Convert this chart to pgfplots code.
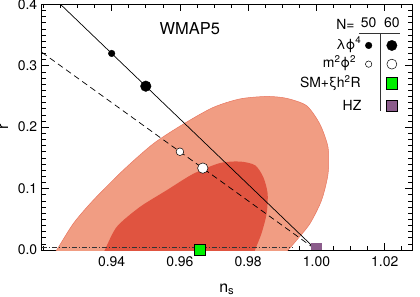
\documentclass[border=0pt]{standalone}
\usepackage{fontspec}
\setmainfont{TeX Gyre Heros}
\usepackage{pgfplots}
\pgfplotsset{compat=1.18}
\definecolor{outerc}{RGB}{241,157,131}
\definecolor{outeredge}{RGB}{232,118,96}
\definecolor{innerc}{RGB}{224,84,64}
\definecolor{smgreen}{RGB}{0,240,0}
\definecolor{hzpurple}{RGB}{139,92,139}
\begin{document}
\begin{tikzpicture}
\begin{axis}[
  scale only axis, width=370.3bp, height=245.7bp,
  xmin=0.9195, xmax=1.028, ymin=0, ymax=0.4,
  xtick={0.94,0.96,0.98,1.00,1.02},
  ytick={0,0.1,0.2,0.3,0.4},
  minor xtick={0.92,0.925,0.93,0.935,0.945,0.95,0.955,0.965,0.97,0.975,0.985,0.99,0.995,1.005,1.01,1.015,1.025},
  minor ytick={0.01,0.02,0.03,0.04,0.05,0.06,0.07,0.08,0.09,0.11,0.12,0.13,0.14,0.15,0.16,0.17,0.18,0.19,0.21,0.22,0.23,0.24,0.25,0.26,0.27,0.28,0.29,0.31,0.32,0.33,0.34,0.35,0.36,0.37,0.38,0.39},
  tick align=inside, xtick pos=both, ytick pos=both,
  major tick length=7bp, minor tick length=4bp,
  every tick/.style={black, line width=0.6bp},
  axis line style={line width=0.8bp},
  /pgf/number format/assume math mode=true,
  tick label style={font=\fontsize{14}{16}\selectfont},
  xticklabel style={/pgf/number format/.cd, fixed, fixed zerofill, precision=2},
  yticklabel style={/pgf/number format/.cd, fixed, fixed zerofill, precision=1},
  xticklabel shift=3bp,
  yticklabel shift=1bp,
  xlabel={n\textsubscript{s}},
  ylabel={r},
  xlabel style={at={(axis description cs:0.5,-0.171)}, anchor=base, font=\fontsize{16}{18}\selectfont},
  ylabel style={at={(axis description cs:-0.091,0.5)}, anchor=base, rotate=0, font=\fontsize{16}{18}\selectfont},
  clip=true,
]
% confidence regions
\addplot[fill=outerc, draw=outeredge, line width=0.5bp, smooth, tension=0.45] coordinates {
(0.9230,-0.006) (0.9239,0) (0.9288,0.0433) (0.9346,0.081) (0.9434,0.130) (0.9522,0.173)
(0.9610,0.205) (0.9697,0.232) (0.9776,0.246) (0.9854,0.250) (0.9912,0.247) (0.9971,0.235)
(1.0010,0.205) (1.0034,0.167) (1.0034,0.124) (1.0015,0.081) (0.9981,0.043) (0.9942,0.016)
(0.9917,0) (0.9905,-0.006)} -- cycle;
\addplot[fill=innerc, draw=none, smooth, tension=0.45] coordinates {
(0.9375,-0.006) (0.9380,0) (0.9415,0.0378) (0.9483,0.0702) (0.9561,0.0972) (0.9639,0.124)
(0.9717,0.1415) (0.9776,0.144) (0.9820,0.138) (0.9844,0.119) (0.9857,0.092) (0.9854,0.059)
(0.9839,0.027) (0.9820,0) (0.9818,-0.006)} -- cycle;
% model lines
\addplot[black, line width=0.7bp] coordinates {(0.9195,0.4293) (1.0,0.0)};
\addplot[black, line width=0.7bp, dash pattern=on 6bp off 4bp] coordinates {(0.9195,0.322) (1.0,0.0)};
\addplot[black!80, line width=0.6bp, dash pattern=on 5bp off 2bp on 1bp off 2bp] coordinates {(0.9195,0.005) (0.993,0.005)};
% HZ point (clipped square)
\addplot[fill=hzpurple, draw=none] coordinates {(0.99828,0) (1.00171,0) (1.00171,0.0109) (0.99828,0.0109)} -- cycle;
% model points
\addplot[only marks, mark=*, mark size=3.3bp, mark options={fill=black, draw=black}] coordinates {(0.94,0.32)};
\addplot[only marks, mark=*, mark size=5.3bp, mark options={fill=black, draw=black}] coordinates {(0.95,0.2667)};
\addplot[only marks, mark=*, mark size=3.8bp, mark options={fill=white, draw=black, line width=0.5bp}] coordinates {(0.96,0.16)};
\addplot[only marks, mark=*, mark size=5.2bp, mark options={fill=white, draw=black, line width=0.5bp}] coordinates {(0.9667,0.1333)};
\addplot[only marks, mark=square*, mark size=5.8bp, mark options={fill=smgreen, draw=black, line width=0.7bp}] coordinates {(0.9658,0.0)};
% legend table
\addplot[black!80, line width=0.6bp] coordinates {(1.0124,0.353) (1.0246,0.353)};
\addplot[black!80, line width=0.6bp] coordinates {(1.0186,0.353) (1.0186,0.227)};
\addplot[only marks, mark=*, mark size=3.3bp, mark options={fill=black, draw=black}] coordinates {(1.0153,0.333)};
\addplot[only marks, mark=*, mark size=5.2bp, mark options={fill=black, draw=black}] coordinates {(1.0221,0.333)};
\addplot[only marks, mark=*, mark size=3.2bp, mark options={fill=white, draw=black, line width=0.5bp}] coordinates {(1.0153,0.3026)};
\addplot[only marks, mark=*, mark size=5.0bp, mark options={fill=white, draw=black, line width=0.5bp}] coordinates {(1.0221,0.3026)};
\addplot[only marks, mark=square*, mark size=5.6bp, mark options={fill=smgreen, draw=black, line width=0.7bp}] coordinates {(1.0221,0.2712)};
\addplot[only marks, mark=square*, mark size=5.6bp, mark options={fill=hzpurple, draw=none}] coordinates {(1.0221,0.235)};
% texts
\node[font=\fontsize{16.5}{18}\selectfont] at (axis cs:0.9629,0.36) {WMAP5};
\node[font=\fontsize{14}{16}\selectfont, anchor=base east, inner sep=0pt] at (axis cs:1.0112,0.359) {N=};
\node[font=\fontsize{14}{16}\selectfont, anchor=base, inner sep=0pt] at (axis cs:1.0153,0.362) {50};
\node[font=\fontsize{14}{16}\selectfont, anchor=base, inner sep=0pt] at (axis cs:1.0221,0.362) {60};
\node[font=\fontsize{14}{16}\selectfont, anchor=base east, inner sep=0pt] at (axis cs:1.0132,0.327) {λϕ\textsuperscript{4}};
\node[font=\fontsize{14}{16}\selectfont, anchor=base east, inner sep=0pt] at (axis cs:1.0117,0.297) {m\textsuperscript{2}ϕ\textsuperscript{2}};
\node[font=\fontsize{14}{16}\selectfont, anchor=base east, inner sep=0pt] at (axis cs:1.0130,0.264) {SM+ξh\textsuperscript{2}R};
\node[font=\fontsize{14}{16}\selectfont, anchor=base east, inner sep=0pt] at (axis cs:1.0132,0.227) {HZ};
\coordinate (sw) at (rel axis cs:0,0);
\coordinate (ne) at (rel axis cs:1,1);
\end{axis}
\pgfresetboundingbox
\path[use as bounding box] ([shift={(-41.7bp,-47bp)}]sw) rectangle ([shift={(8bp,4.3bp)}]ne);
\end{tikzpicture}
\end{document}
